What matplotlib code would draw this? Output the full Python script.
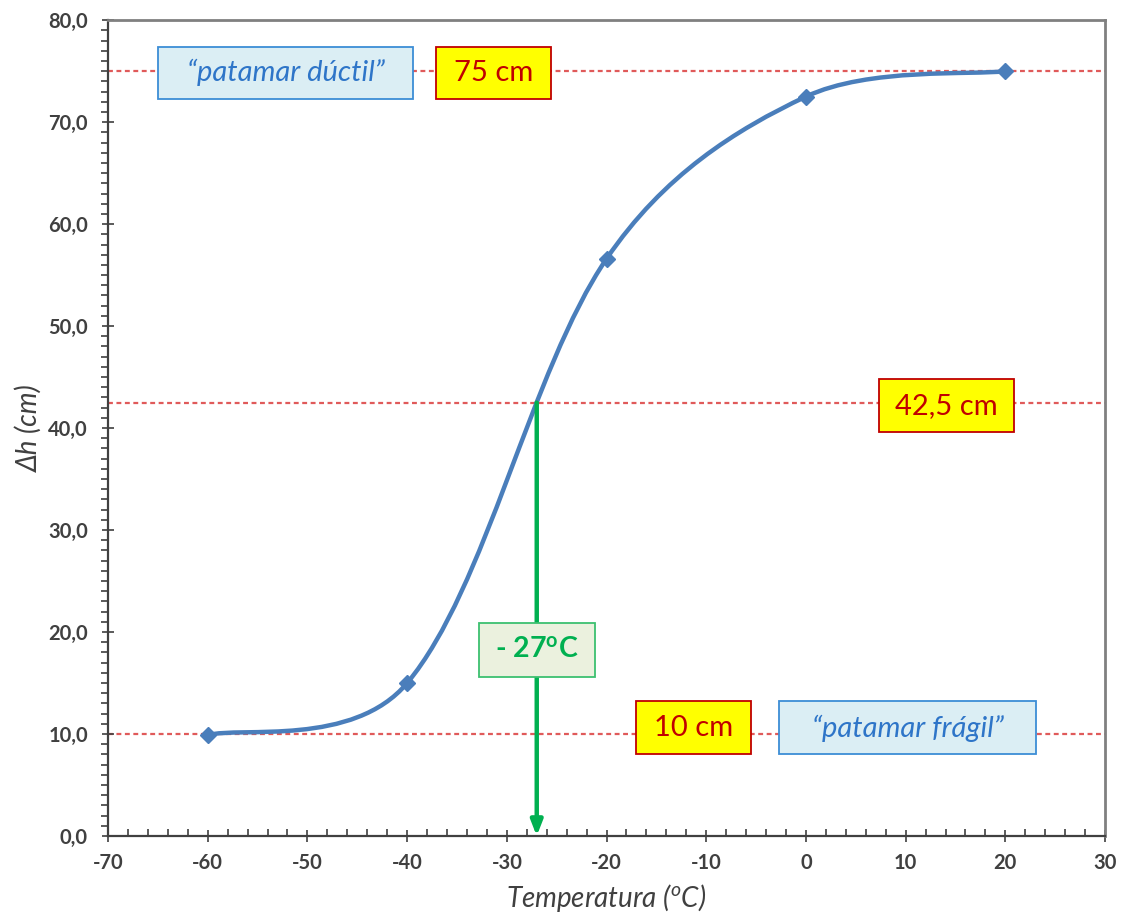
import matplotlib
matplotlib.use("Agg")
import matplotlib.pyplot as plt
import matplotlib.patches as patches
from matplotlib.path import Path
from matplotlib.ticker import MultipleLocator, FuncFormatter

# dados
temperatura = [-60, -40, -20, 0, 20]
delta_h = [9.9, 15.0, 56.6, 72.5, 75.0]

niveis = [75.0, 42.5, 10.0]
t_transicao = -27
h_transicao = 42.5

plt.rcParams['font.family'] = ['Lato', 'DejaVu Sans']
plt.rcParams['mathtext.fontset'] = 'custom'
plt.rcParams['mathtext.rm'] = 'Lato'
plt.rcParams['mathtext.it'] = 'Lato:italic'
plt.rcParams['mathtext.bf'] = 'Lato:bold'

fig = plt.figure(figsize=(11.23, 9.15), dpi=100)
ax = fig.add_axes([0.0962, 0.0863, 0.8878, 0.8917])
ax.set_xlim(-70, 30)
ax.set_ylim(0, 80)

# linhas tracejadas de referência
for n in niveis:
    ax.axhline(n, color='#E05A5A', lw=1.6, dashes=(2.2, 1.6), zorder=1)


def curva_suave(xs, ys):
    # linha suavizada tipo Excel (bezier cúbica)
    pts = list(zip(xs, ys))
    n = len(pts)

    def dist(a, b):
        return ((a[0] - b[0]) ** 2 + (a[1] - b[1]) ** 2) ** 0.5

    alca_esq, alca_dir = [], []
    for i in range(n):
        if i == 0:
            alca_esq.append((0, 0))
            alca_dir.append(((pts[1][0] - pts[0][0]) / 6, (pts[1][1] - pts[0][1]) / 6))
        elif i == n - 1:
            alca_esq.append(((pts[i][0] - pts[i - 1][0]) / 6, (pts[i][1] - pts[i - 1][1]) / 6))
            alca_dir.append((0, 0))
        else:
            tx = pts[i + 1][0] - pts[i - 1][0]
            ty = pts[i + 1][1] - pts[i - 1][1]
            d1 = dist(pts[i - 1], pts[i])
            d2 = dist(pts[i], pts[i + 1])
            f1 = (1 / 6 + d1 / (d1 + d2) / 3) / 2
            f2 = (1 / 6 + d2 / (d1 + d2) / 3) / 2
            alca_esq.append((tx * f1, ty * f1))
            alca_dir.append((tx * f2, ty * f2))
    verts = [pts[0]]
    codes = [Path.MOVETO]
    for i in range(n - 1):
        p1, p2 = pts[i], pts[i + 1]
        c1 = (p1[0] + alca_dir[i][0], p1[1] + alca_dir[i][1])
        c2 = (p2[0] - alca_esq[i + 1][0], p2[1] - alca_esq[i + 1][1])
        verts += [c1, c2, p2]
        codes += [Path.CURVE4] * 3
    return Path(verts, codes)


ax.add_patch(patches.PathPatch(curva_suave(temperatura, delta_h), fill=False,
                               edgecolor='#4A7EBB', lw=3.2, zorder=3,
                               capstyle='round', joinstyle='round'))
ax.plot(temperatura, delta_h, linestyle='none', marker='D', ms=8,
        color='#4A7EBB', zorder=4)

# seta verde
ax.annotate('', xy=(t_transicao, 0), xytext=(t_transicao, h_transicao),
            arrowprops=dict(arrowstyle='-|>,head_width=0.35,head_length=0.9',
                            color='#00B050', lw=3.2, shrinkA=0, shrinkB=0),
            zorder=5)


def caixa(x0, x1, y0, y1, texto, face, borda, cor, **kw):
    ax.add_patch(patches.Rectangle((x0, y0), x1 - x0, y1 - y0, facecolor=face,
                                   edgecolor=borda, lw=1.3, zorder=6))
    ax.text((x0 + x1) / 2, (y0 + y1) / 2, texto, ha='center', va='center',
            color=cor, zorder=7, **kw)


caixa(-65.0, -39.4, 72.3, 77.4, '\u201cpatamar d\u00factil\u201d', '#DBEEF4',
      '#3C8DD6', '#2E75C8', fontsize=21, style='italic')
caixa(-37.1, -25.6, 72.3, 77.4, '75 cm', '#FFFF00', '#C00000', '#C00000',
      fontsize=21)
caixa(7.3, 20.9, 39.6, 44.8, '42,5 cm', '#FFFF00', '#C00000', '#C00000',
      fontsize=21)
caixa(-17.0, -5.5, 8.0, 13.2, '10 cm', '#FFFF00', '#C00000', '#C00000',
      fontsize=21)
caixa(-2.7, 23.1, 8.0, 13.2, '\u201cpatamar fr\u00e1gil\u201d', '#DBEEF4',
      '#3C8DD6', '#2E75C8', fontsize=21, style='italic')
caixa(-32.8, -21.2, 15.6, 20.9, r'- 27$^{\mathbf{o}}$C', '#EBF1DE',
      '#3CC070', '#00B050', fontsize=20.5, fontweight='bold')

# eixos
ax.xaxis.set_major_locator(MultipleLocator(10))
ax.xaxis.set_minor_locator(MultipleLocator(2))
ax.yaxis.set_major_locator(MultipleLocator(10))
ax.yaxis.set_minor_locator(MultipleLocator(1))
ax.yaxis.set_major_formatter(FuncFormatter(lambda v, p: f'{v:.1f}'.replace('.', ',')))
ax.xaxis.set_major_formatter(FuncFormatter(lambda v, p: f'{v:.0f}'))

ax.tick_params(axis='both', which='major', direction='inout', length=9,
               width=1.2, color='#404040', labelsize=14.5, labelcolor='#404040')
ax.tick_params(axis='x', which='minor', direction='in', length=5, width=1.2,
               color='#404040')
ax.tick_params(axis='y', which='minor', direction='out', length=5, width=1.2,
               color='#404040')
ax.tick_params(axis='x', which='major', pad=8)
ax.tick_params(axis='y', which='major', pad=10)
for lab in ax.get_xticklabels() + ax.get_yticklabels():
    lab.set_fontweight('bold')

for s in ['left', 'bottom']:
    ax.spines[s].set_color('#404040')
    ax.spines[s].set_linewidth(1.6)
for s in ['top', 'right']:
    ax.spines[s].set_color('#808080')
    ax.spines[s].set_linewidth(2)

ax.set_xlabel('Temperatura ($^{o}$C)', fontsize=20, style='italic',
              color='#404040', labelpad=6)
ax.set_ylabel('\u0394h (cm)', fontsize=20, style='italic', color='#404040',
              labelpad=4)

fig.savefig('out.png', dpi=100)
